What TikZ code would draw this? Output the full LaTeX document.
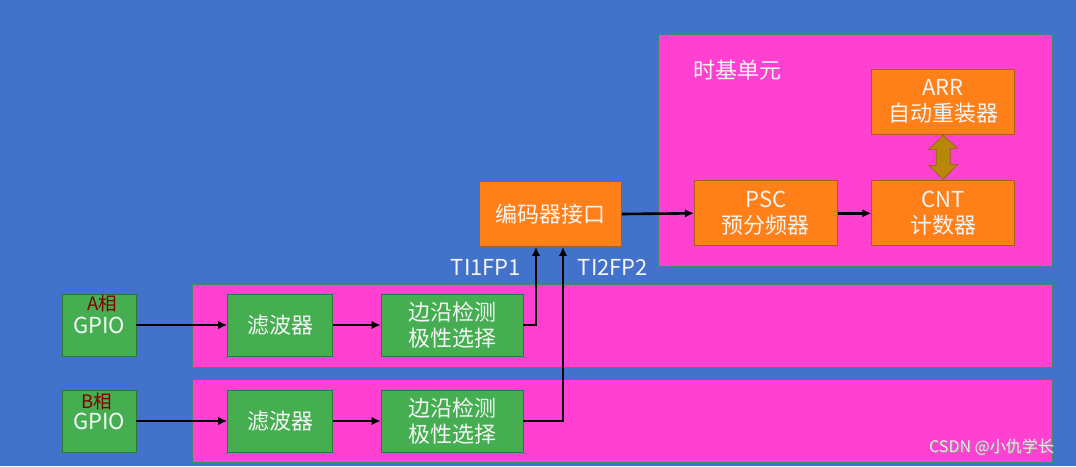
\documentclass[tikz,border=0pt]{standalone}
\usepackage{fontspec}
\setmainfont{Noto Sans CJK SC}
\usetikzlibrary{arrows.meta}
\definecolor{bgblue}{RGB}{66,114,201}
\definecolor{magbox}{RGB}{255,64,208}
\definecolor{magedge}{RGB}{70,130,120}
\definecolor{orbox}{RGB}{255,127,25}
\definecolor{oredge}{RGB}{170,95,25}
\definecolor{grbox}{RGB}{68,174,80}
\definecolor{gredge}{RGB}{40,120,55}
\definecolor{olive}{RGB}{184,134,8}
\definecolor{olivedge}{RGB}{140,100,10}
\definecolor{phasered}{RGB}{128,0,0}
\definecolor{txt}{RGB}{245,245,245}
\tikzset{
  x=1pt, y=-1pt,
  panel/.style={draw=magedge, line width=0.8pt, fill=magbox, rectangle, inner sep=0pt},
  obox/.style={draw=oredge, line width=0.8pt, fill=orbox, rectangle, inner sep=0pt,
    minimum width=143pt, minimum height=65pt, text=txt, align=center,
    font=\fontsize{22}{26}\selectfont},
  gbox/.style={draw=gredge, line width=0.8pt, fill=grbox, rectangle, inner sep=0pt,
    minimum height=62pt, text=txt, align=center,
    font=\fontsize{22}{26}\selectfont},
  lbl/.style={text=txt, inner sep=0pt, font=\fontsize{22}{26}\selectfont},
  phase/.style={text=phasered, inner sep=0pt, font=\fontsize{18.5}{20}\selectfont},
  conn/.style={line width=2.6pt, black, -{Latex[length=9pt,width=8.5pt]}},
}
\begin{document}
\begin{tikzpicture}
\useasboundingbox (0,0) rectangle (1076,466);
\fill[bgblue] (0,0) rectangle (1076,466);

% panels
\node[panel, minimum width=394pt, minimum height=232pt] (tb) at (855,150) {};
\node[panel, minimum width=860pt, minimum height=83pt] (rowA) at (622,325.5) {};
\node[panel, minimum width=860pt, minimum height=83pt] (rowB) at (622,420.5) {};

\node[lbl, anchor=west] (tbl) at (693,70) {时基单元};

% orange boxes
\node[obox] (arr) at (943.2,101.5) {ARR\\自动重装器};
\node[obox] (psc) at (765.8,213.3) {PSC\\预分频器};
\node[obox] (cnt) at (943.2,213.3) {CNT\\计数器};
\node[obox, minimum width=142pt] (enc) at (550.5,214) {编码器接口};

% green boxes
\node[gbox, minimum width=74pt] (gA) at (99,325) {GPIO};
\node[gbox, minimum width=74pt] (gB) at (99,421) {GPIO};
\node[gbox, minimum width=105pt] (fA) at (280,325) {滤波器};
\node[gbox, minimum width=105pt] (fB) at (280,421) {滤波器};
\node[gbox, minimum width=142pt] (eA) at (452,325) {边沿检测\\极性选择};
\node[gbox, minimum width=142pt] (eB) at (452,421) {边沿检测\\极性选择};

\node[phase] (pA) at (102.5,303) {A相};
\node[phase] (pB) at (96.5,401) {B相};

% labels
\node[lbl] (ti1) at (486,267) {TI1FP1};
\node[lbl] (ti2) at (613,267) {TI2FP2};

% connectors
\draw[conn] (gA.east) -- (fA.west);
\draw[conn] (fA.east) -- (eA.west);
\draw[conn] (gB.east) -- (fB.west);
\draw[conn] (fB.east) -- (eB.west);
\draw[conn] (eA.east) -| ([xshift=-14.5pt]enc.south);
\draw[conn] (eB.east) -| ([xshift=12.5pt]enc.south);
\draw[conn] (enc.east) -- (psc.west);
\draw[conn] (psc.east) -- (cnt.west);

% double arrow ARR <-> CNT
\coordinate (dt) at ([yshift=-1pt]arr.south);
\coordinate (db) at ([yshift=1pt]cnt.north);
\fill[olive, draw=olivedge, line width=0.6pt]
  (dt) -- ++(-14.5,14) -- ++(7.5,0) -- ++(0,16) -- ++(-7.5,0) -- (db)
  -- ++(14.5,-15) -- ++(-7.5,0) -- ++(0,-16) -- ++(7.5,0) -- cycle;

% watermark
\node[text=black!40, inner sep=0pt, font=\fontsize{16}{18}\selectfont] at (992.5,448) {CSDN @小仇学长};
\node[text=white!92!black, inner sep=0pt, font=\fontsize{16}{18}\selectfont] (wm) at (991.5,447) {CSDN @小仇学长};
\end{tikzpicture}
\end{document}
